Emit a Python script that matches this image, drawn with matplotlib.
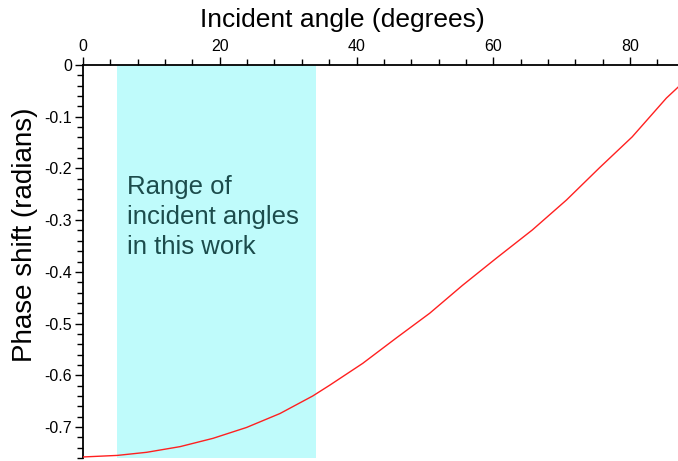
import matplotlib
matplotlib.use("Agg")
import matplotlib.pyplot as plt
from matplotlib.ticker import MultipleLocator, FormatStrFormatter

plt.rcParams['font.family'] = ['Liberation Sans', 'DejaVu Sans']

# Phase shift vs incident angle
angle_deg = [0, 5.0, 9.3, 14.2, 19.0, 23.9, 28.8, 33.6, 36.1, 40.9, 45.8,
             50.7, 55.5, 60.4, 65.7, 70.7, 75.5, 80.3, 85.3, 87.0]
phase_rad = [-0.758, -0.755, -0.749, -0.738, -0.722, -0.701, -0.674, -0.640,
             -0.619, -0.577, -0.528, -0.480, -0.426, -0.374, -0.319, -0.261,
             -0.199, -0.139, -0.064, -0.043]

band_start, band_end = 5.0, 34.1
band_label = "Range of\nincident angles\nin this work"

fig = plt.figure(figsize=(6.78, 4.61), dpi=100)
ax = fig.add_axes([83 / 678, 3 / 461, (678 - 83) / 678, (458 - 65) / 461])

ax.axvspan(band_start, band_end, color='#bffbfb', lw=0, zorder=0)
ax.plot(angle_deg, phase_rad, color='#ff2020', lw=1.0, zorder=3)

ax.text(6.5, -0.294, band_label, color='#1c4c4c', fontsize=18.5,
        va='center', ha='left', linespacing=1.32)

ax.set_xlim(0, 87)
ax.set_ylim(-0.76, 0)

ax.xaxis.tick_top()
ax.xaxis.set_label_position('top')
ax.spines['bottom'].set_visible(False)
ax.spines['right'].set_visible(False)
for s in ('top', 'left'):
    ax.spines[s].set_linewidth(1.3)

ax.xaxis.set_major_locator(MultipleLocator(20))
ax.xaxis.set_minor_locator(MultipleLocator(4))
ax.yaxis.set_major_locator(MultipleLocator(0.1))
ax.yaxis.set_minor_locator(MultipleLocator(0.02))
ax.yaxis.set_major_formatter(FormatStrFormatter('%g'))

ax.tick_params(which='major', length=6, width=1.0, labelsize=11.5, pad=2)
ax.tick_params(which='minor', length=4, width=1.0)

fig.text(342 / 678, 1 - 20 / 461, "Incident angle (degrees)",
         fontsize=19, ha='center', va='center')
fig.text(25 / 678, 1 - 235 / 461, "Phase shift (radians)", fontsize=20,
         rotation=90, ha='center', va='center')

fig.savefig('out.png', dpi=100)
